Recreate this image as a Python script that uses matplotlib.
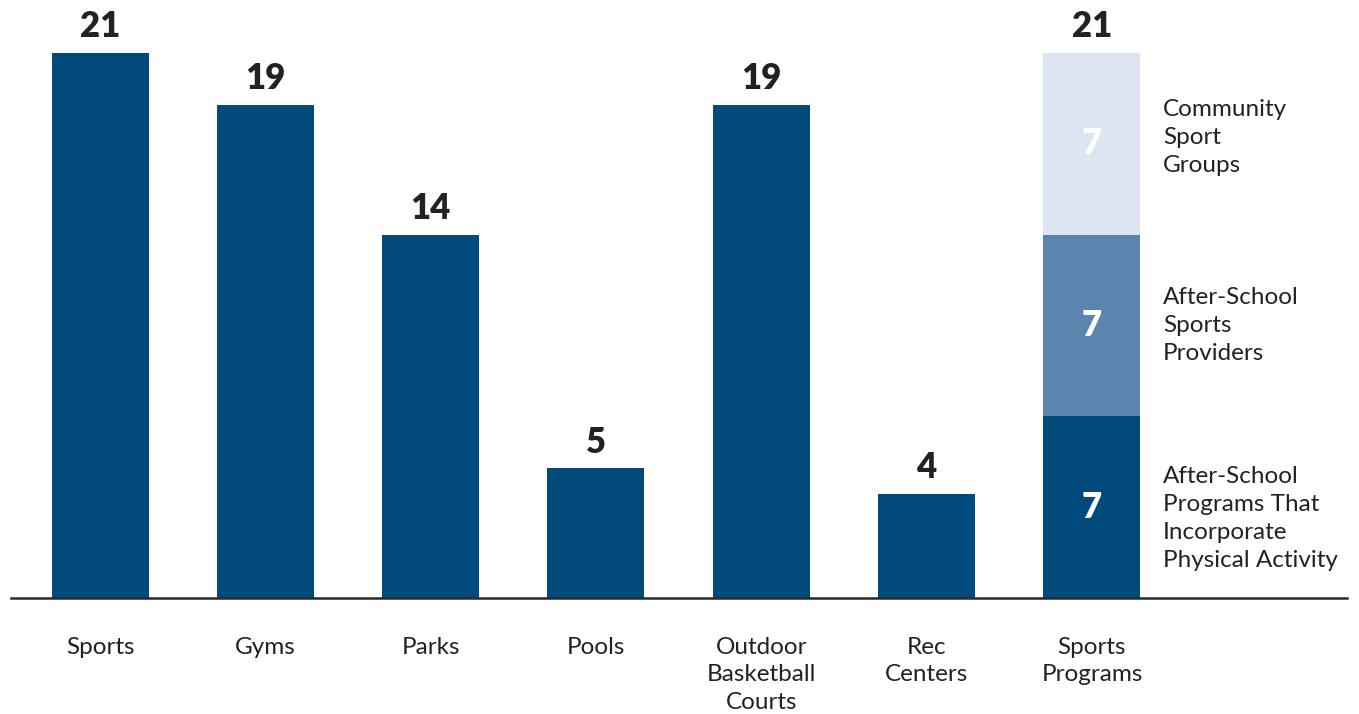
import matplotlib
matplotlib.use("Agg")
import matplotlib.pyplot as plt

categories = ["Sports", "Gyms", "Parks", "Pools", "Outdoor\nBasketball\nCourts", "Rec\nCenters", "Sports\nPrograms"]
values = [21, 19, 14, 5, 19, 4, None]
stack_labels = ["After-School\nPrograms That\nIncorporate\nPhysical Activity", "After-School\nSports\nProviders", "Community\nSport\nGroups"]
stack_values = [7, 7, 7]

navy = "#004a7c"
stack_colors = [navy, "#5b84ae", "#dce5f0"]
txt = "#222222"

plt.rcParams['font.family'] = ['Lato', 'DejaVu Sans']

fig = plt.figure(figsize=(13.59, 7.14), dpi=100)
W, H = 1359, 714
ax = fig.add_axes([11 / W, (H - 598) / H, (1347 - 11) / W, 598 / H])

px_per_cat = 165.33
ax.set_xlim((11 - 100) / px_per_cat, (1347 - 100) / px_per_cat)
ax.set_ylim(0, 598 / 25.95)
bw = 97 / px_per_cat

for i, v in enumerate(values):
    if v is None:
        continue
    ax.bar(i, v, width=bw, color=navy, zorder=2)
    ax.annotate(str(v), (i, v), xytext=(0, 7), textcoords="offset points",
                ha="center", va="bottom", fontsize=25, fontweight="heavy", color=txt)

si = len(categories) - 1
bottom = 0
for sv, col in zip(stack_values, stack_colors):
    ax.bar(si, sv, width=bw, bottom=bottom, color=col, zorder=2)
    ax.text(si, bottom + sv / 2, str(sv), ha="center", va="center", fontsize=25,
            fontweight="heavy", color="white")
    bottom += sv
ax.annotate(str(sum(stack_values)), (si, bottom), xytext=(0, 7), textcoords="offset points",
            ha="center", va="bottom", fontsize=25, fontweight="heavy", color=txt)

label_y = [3.05, 10.5, 17.75]
for lbl, ly in zip(stack_labels, label_y):
    ax.text((1163 - 100) / px_per_cat, ly, lbl, ha="left", va="center", fontsize=17.5,
            color=txt, linespacing=1.41)

for i, c in enumerate(categories):
    ax.text(i, -1.5, c, ha="center", va="top", fontsize=17.5, color=txt,
            linespacing=1.38, clip_on=False)

for s in ["top", "right", "left"]:
    ax.spines[s].set_visible(False)
ax.spines["bottom"].set_color("#2b2b2b")
ax.spines["bottom"].set_linewidth(1.8)
ax.spines["bottom"].set_zorder(3)
ax.set_xticks([])
ax.set_yticks([])

fig.savefig("out.png", dpi=100, facecolor="white")
